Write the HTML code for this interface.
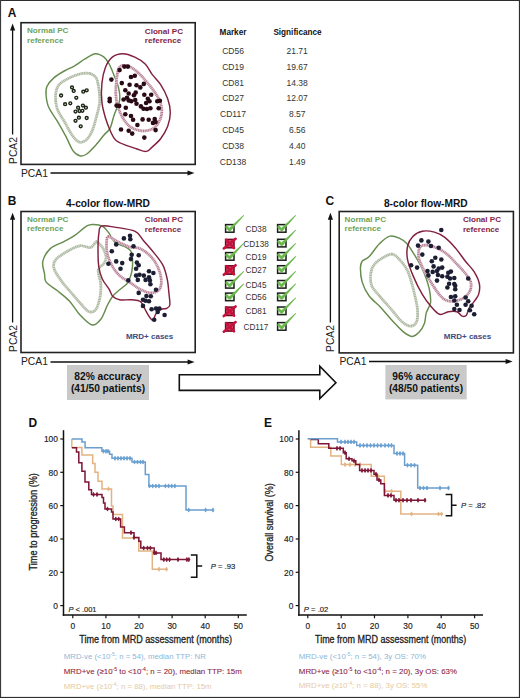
<!DOCTYPE html>
<html><head><meta charset="utf-8"><style>
html,body{margin:0;padding:0;background:#fff;}
svg{display:block;}
</style></head><body>
<svg width="520" height="698" viewBox="0 0 520 698">
<rect x="0" y="0" width="520" height="698" fill="#fff"/><rect x="0" y="0" width="520" height="1" fill="#2e2e2e"/><rect x="0" y="0" width="1.1" height="698" fill="#3a3a3a"/><rect x="518.9" y="0" width="1.1" height="698" fill="#2e2e2e"/><rect x="0" y="696.9" width="520" height="1.1" fill="#2e2e2e"/><text x="0" y="0" transform="translate(7.8,16.9) scale(0.92,1)" font-family="Liberation Sans, sans-serif" font-size="13" font-weight="bold" fill="#111">A</text><rect x="21.0" y="22.7" width="174.2" height="141.7" fill="none" stroke="#222" stroke-width="1.6"/><line x1="12.6" y1="28.5" x2="12.6" y2="134.5" stroke="#111" stroke-width="1.3"/><path d="M12.6,23.5 L10.0,30.5 L15.2,30.5 Z" fill="#111"/><text x="0" y="0" transform="translate(16.6,150.5) rotate(-90)" font-family="Liberation Sans, sans-serif" font-size="10.3" fill="#222" text-anchor="middle">PCA2</text><text x="21.0" y="176.6" font-family="Liberation Sans, sans-serif" font-size="10.3" fill="#222">PCA1</text><line x1="50.5" y1="173.0" x2="189.5" y2="173.0" stroke="#111" stroke-width="1.3"/><path d="M194.5,173.0 L187.5,170.4 L187.5,175.6 Z" fill="#111"/><text x="27" y="32.9" font-family="Liberation Sans, sans-serif" font-size="8.1" font-weight="bold" fill="#6fa258">Normal PC</text><text x="27" y="42.6" font-family="Liberation Sans, sans-serif" font-size="8.1" font-weight="bold" fill="#6fa258">reference</text><text x="144.8" y="34.2" font-family="Liberation Sans, sans-serif" font-size="8.1" font-weight="bold" fill="#842444">Clonal PC</text><text x="144.8" y="43.3" font-family="Liberation Sans, sans-serif" font-size="8.1" font-weight="bold" fill="#842444">reference</text><path d="M95.4,53.7 C98.6,53.4 101.7,55.4 104.0,57.1 C106.3,58.8 107.5,60.8 109.2,64.0 C110.9,67.2 112.8,72.2 114.4,76.2 C116.0,80.2 117.8,84.3 118.7,88.3 C119.6,92.3 120.3,96.1 119.6,100.4 C118.9,104.7 116.0,109.6 114.4,114.2 C112.8,118.8 111.8,124.6 110.1,128.1 C108.4,131.6 106.2,132.4 104.0,135.0 C101.8,137.6 100.0,140.4 97.1,143.6 C94.2,146.8 89.6,152.0 86.7,154.0 C83.8,156.0 82.1,156.4 79.8,155.8 C77.5,155.2 75.2,153.8 72.9,150.6 C70.6,147.4 68.6,141.6 66.0,136.7 C63.4,131.8 60.2,126.1 57.3,121.2 C54.4,116.3 50.6,111.6 48.7,107.3 C46.8,103.0 46.4,98.7 46.1,95.2 C45.8,91.7 45.6,89.4 46.9,86.5 C48.2,83.6 50.9,80.5 53.8,77.9 C56.7,75.3 60.7,73.0 64.2,71.0 C67.7,69.0 71.1,67.8 74.6,65.8 C78.1,63.8 81.5,60.8 85.0,58.8 C88.5,56.8 92.2,54.0 95.4,53.7Z" fill="none" stroke="#668c4e" stroke-width="1.45"/><path d="M90.2,73.6 C92.7,74.3 94.8,75.5 96.2,77.9 C97.6,80.4 98.2,84.3 98.8,88.3 C99.4,92.3 100.1,97.2 99.7,102.1 C99.3,107.0 97.5,112.8 96.2,117.7 C94.9,122.6 93.6,127.8 91.9,131.5 C90.2,135.2 88.1,138.5 85.9,140.2 C83.7,141.9 81.2,142.8 78.9,141.9 C76.6,141.0 74.5,138.4 72.0,135.0 C69.5,131.6 66.7,125.5 64.2,121.2 C61.8,116.9 58.7,113.3 57.3,109.0 C55.9,104.7 55.3,99.2 55.6,95.2 C55.9,91.2 56.7,87.7 59.0,84.8 C61.3,81.9 65.7,79.8 69.4,77.9 C73.2,76.0 78.0,74.3 81.5,73.6 C85.0,72.9 87.8,72.9 90.2,73.6Z" fill="none" stroke="#d8dfd0" stroke-width="2.7"/><path d="M90.2,73.6 C92.7,74.3 94.8,75.5 96.2,77.9 C97.6,80.4 98.2,84.3 98.8,88.3 C99.4,92.3 100.1,97.2 99.7,102.1 C99.3,107.0 97.5,112.8 96.2,117.7 C94.9,122.6 93.6,127.8 91.9,131.5 C90.2,135.2 88.1,138.5 85.9,140.2 C83.7,141.9 81.2,142.8 78.9,141.9 C76.6,141.0 74.5,138.4 72.0,135.0 C69.5,131.6 66.7,125.5 64.2,121.2 C61.8,116.9 58.7,113.3 57.3,109.0 C55.9,104.7 55.3,99.2 55.6,95.2 C55.9,91.2 56.7,87.7 59.0,84.8 C61.3,81.9 65.7,79.8 69.4,77.9 C73.2,76.0 78.0,74.3 81.5,73.6 C85.0,72.9 87.8,72.9 90.2,73.6Z" fill="none" stroke="#a2ae98" stroke-width="2.7" stroke-dasharray="0.8 0.9"/><path d="M122.7,53.7 C126.5,53.7 131.1,55.4 134.8,57.1 C138.6,58.8 142.3,61.1 145.2,64.0 C148.1,66.9 149.5,70.9 152.1,74.4 C154.7,77.9 158.2,80.8 160.8,84.8 C163.4,88.8 166.1,94.1 167.7,98.7 C169.3,103.3 170.3,107.9 170.3,112.5 C170.3,117.1 169.3,122.0 167.7,126.3 C166.1,130.6 163.4,135.0 160.8,138.5 C158.2,142.0 154.6,144.9 152.1,147.1 C149.6,149.2 148.7,151.1 146.1,151.4 C143.5,151.7 139.8,149.8 136.5,148.8 C133.2,147.8 129.7,146.8 126.2,145.4 C122.8,144.0 118.4,142.5 115.8,140.2 C113.2,137.9 112.3,135.2 110.6,131.5 C108.9,127.8 106.9,122.6 105.4,117.7 C104.0,112.8 102.5,107.9 101.9,102.1 C101.3,96.3 101.3,88.9 101.9,83.1 C102.5,77.3 103.7,71.8 105.4,67.5 C107.1,63.2 109.4,59.4 112.3,57.1 C115.2,54.8 119.0,53.7 122.7,53.7Z" fill="none" stroke="#82203e" stroke-width="1.45"/><path d="M122.7,65.4 C124.9,65.1 128.4,66.0 131.3,67.5 C134.2,69.0 137.4,72.0 140.0,74.4 C142.6,76.9 144.3,79.0 146.9,82.2 C149.5,85.4 153.3,89.9 155.6,93.5 C157.9,97.1 159.8,100.3 160.8,103.8 C161.8,107.2 162.2,110.7 161.6,114.2 C161.0,117.7 159.2,122.0 157.3,124.6 C155.4,127.2 153.3,128.8 150.4,129.8 C147.5,130.8 143.5,131.3 140.0,130.7 C136.5,130.1 132.5,128.5 129.6,126.3 C126.7,124.1 124.7,121.2 122.7,117.7 C120.7,114.2 118.7,109.6 117.5,105.6 C116.3,101.6 116.0,97.8 115.8,93.5 C115.6,89.2 116.2,83.6 116.6,79.6 C117.0,75.5 117.4,71.6 118.4,69.2 C119.4,66.8 120.5,65.7 122.7,65.4Z" fill="none" stroke="#e4cbd5" stroke-width="2.7"/><path d="M122.7,65.4 C124.9,65.1 128.4,66.0 131.3,67.5 C134.2,69.0 137.4,72.0 140.0,74.4 C142.6,76.9 144.3,79.0 146.9,82.2 C149.5,85.4 153.3,89.9 155.6,93.5 C157.9,97.1 159.8,100.3 160.8,103.8 C161.8,107.2 162.2,110.7 161.6,114.2 C161.0,117.7 159.2,122.0 157.3,124.6 C155.4,127.2 153.3,128.8 150.4,129.8 C147.5,130.8 143.5,131.3 140.0,130.7 C136.5,130.1 132.5,128.5 129.6,126.3 C126.7,124.1 124.7,121.2 122.7,117.7 C120.7,114.2 118.7,109.6 117.5,105.6 C116.3,101.6 116.0,97.8 115.8,93.5 C115.6,89.2 116.2,83.6 116.6,79.6 C117.0,75.5 117.4,71.6 118.4,69.2 C119.4,66.8 120.5,65.7 122.7,65.4Z" fill="none" stroke="#ad7189" stroke-width="2.7" stroke-dasharray="0.8 0.9"/><circle cx="72.0" cy="87.4" r="1.45" fill="#e8efe0" stroke="#1a2414" stroke-width="1.4"/><circle cx="73.7" cy="90.9" r="1.45" fill="#e8efe0" stroke="#1a2414" stroke-width="1.4"/><circle cx="83.3" cy="91.7" r="1.45" fill="#e8efe0" stroke="#1a2414" stroke-width="1.4"/><circle cx="86.7" cy="90.3" r="1.45" fill="#e8efe0" stroke="#1a2414" stroke-width="1.4"/><circle cx="61.1" cy="95.5" r="1.45" fill="#e8efe0" stroke="#1a2414" stroke-width="1.4"/><circle cx="76.3" cy="97.8" r="1.45" fill="#e8efe0" stroke="#1a2414" stroke-width="1.4"/><circle cx="65.1" cy="104.2" r="1.45" fill="#e8efe0" stroke="#1a2414" stroke-width="1.4"/><circle cx="70.3" cy="103.3" r="1.45" fill="#e8efe0" stroke="#1a2414" stroke-width="1.4"/><circle cx="78.1" cy="107.7" r="1.45" fill="#e8efe0" stroke="#1a2414" stroke-width="1.4"/><circle cx="82.9" cy="105.6" r="1.45" fill="#e8efe0" stroke="#1a2414" stroke-width="1.4"/><circle cx="85.9" cy="107.7" r="1.45" fill="#e8efe0" stroke="#1a2414" stroke-width="1.4"/><circle cx="75.5" cy="111.6" r="1.45" fill="#e8efe0" stroke="#1a2414" stroke-width="1.4"/><circle cx="79.5" cy="111.1" r="1.45" fill="#e8efe0" stroke="#1a2414" stroke-width="1.4"/><circle cx="82.4" cy="110.8" r="1.45" fill="#e8efe0" stroke="#1a2414" stroke-width="1.4"/><circle cx="78.9" cy="117.7" r="1.45" fill="#e8efe0" stroke="#1a2414" stroke-width="1.4"/><circle cx="86.7" cy="118.0" r="1.45" fill="#e8efe0" stroke="#1a2414" stroke-width="1.4"/><circle cx="75.5" cy="120.8" r="1.45" fill="#e8efe0" stroke="#1a2414" stroke-width="1.4"/><circle cx="80.7" cy="126.3" r="1.45" fill="#e8efe0" stroke="#1a2414" stroke-width="1.4"/><circle cx="111.4" cy="79.6" r="2.30" fill="#2a0a14"/><circle cx="119.6" cy="70.1" r="2.30" fill="#2a0a14"/><circle cx="124.4" cy="66.6" r="2.30" fill="#2a0a14"/><circle cx="127.9" cy="66.6" r="2.30" fill="#2a0a14"/><circle cx="131.0" cy="77.0" r="2.30" fill="#2a0a14"/><circle cx="134.8" cy="75.8" r="2.30" fill="#2a0a14"/><circle cx="121.8" cy="83.1" r="2.30" fill="#2a0a14"/><circle cx="129.6" cy="84.8" r="2.30" fill="#2a0a14"/><circle cx="136.5" cy="85.2" r="2.30" fill="#2a0a14"/><circle cx="140.3" cy="87.4" r="2.30" fill="#2a0a14"/><circle cx="143.8" cy="83.9" r="2.30" fill="#2a0a14"/><circle cx="125.3" cy="90.3" r="2.30" fill="#2a0a14"/><circle cx="128.7" cy="93.5" r="2.30" fill="#2a0a14"/><circle cx="133.9" cy="95.2" r="2.30" fill="#2a0a14"/><circle cx="135.7" cy="92.6" r="2.30" fill="#2a0a14"/><circle cx="144.3" cy="94.8" r="2.30" fill="#2a0a14"/><circle cx="151.2" cy="94.8" r="2.30" fill="#2a0a14"/><circle cx="109.7" cy="98.7" r="2.30" fill="#2a0a14"/><circle cx="109.7" cy="101.2" r="2.30" fill="#2a0a14"/><circle cx="123.6" cy="99.5" r="2.30" fill="#2a0a14"/><circle cx="127.0" cy="97.8" r="2.30" fill="#2a0a14"/><circle cx="128.7" cy="100.4" r="2.30" fill="#2a0a14"/><circle cx="131.3" cy="101.2" r="2.30" fill="#2a0a14"/><circle cx="135.2" cy="100.0" r="2.30" fill="#2a0a14"/><circle cx="147.8" cy="98.7" r="2.30" fill="#2a0a14"/><circle cx="149.5" cy="101.2" r="2.30" fill="#2a0a14"/><circle cx="146.1" cy="103.0" r="2.30" fill="#2a0a14"/><circle cx="157.3" cy="101.2" r="2.30" fill="#2a0a14"/><circle cx="159.9" cy="100.7" r="2.30" fill="#2a0a14"/><circle cx="116.6" cy="105.6" r="2.30" fill="#2a0a14"/><circle cx="119.2" cy="105.9" r="2.30" fill="#2a0a14"/><circle cx="125.8" cy="107.7" r="2.30" fill="#2a0a14"/><circle cx="136.5" cy="103.8" r="2.30" fill="#2a0a14"/><circle cx="140.9" cy="106.4" r="2.30" fill="#2a0a14"/><circle cx="143.5" cy="108.7" r="2.30" fill="#2a0a14"/><circle cx="146.9" cy="109.0" r="2.30" fill="#2a0a14"/><circle cx="150.4" cy="108.2" r="2.30" fill="#2a0a14"/><circle cx="158.7" cy="108.2" r="2.30" fill="#2a0a14"/><circle cx="125.3" cy="114.2" r="2.30" fill="#2a0a14"/><circle cx="131.0" cy="116.0" r="2.30" fill="#2a0a14"/><circle cx="133.1" cy="119.8" r="2.30" fill="#2a0a14"/><circle cx="142.6" cy="119.4" r="2.30" fill="#2a0a14"/><circle cx="148.7" cy="119.8" r="2.30" fill="#2a0a14"/><circle cx="154.7" cy="119.1" r="2.30" fill="#2a0a14"/><circle cx="153.0" cy="122.9" r="2.30" fill="#2a0a14"/><circle cx="155.6" cy="122.0" r="2.30" fill="#2a0a14"/><circle cx="137.4" cy="125.0" r="2.30" fill="#2a0a14"/><circle cx="121.0" cy="129.5" r="2.30" fill="#2a0a14"/><circle cx="128.7" cy="130.7" r="2.30" fill="#2a0a14"/><circle cx="132.2" cy="133.6" r="2.30" fill="#2a0a14"/><circle cx="155.6" cy="130.1" r="2.30" fill="#2a0a14"/><circle cx="144.3" cy="137.6" r="2.30" fill="#2a0a14"/><text x="233" y="35" font-family="Liberation Sans, sans-serif" font-size="8.2" font-weight="bold" fill="#111" text-anchor="middle">Marker</text><text x="297.5" y="35" font-family="Liberation Sans, sans-serif" font-size="8.2" font-weight="bold" fill="#111" text-anchor="middle">Significance</text><text x="233" y="54.0" font-family="Liberation Sans, sans-serif" font-size="8.5" fill="#333" text-anchor="middle">CD56</text><text x="297.2" y="54.0" font-family="Liberation Sans, sans-serif" font-size="8.5" fill="#333" text-anchor="middle">21.71</text><text x="233" y="69.8" font-family="Liberation Sans, sans-serif" font-size="8.5" fill="#333" text-anchor="middle">CD19</text><text x="297.2" y="69.8" font-family="Liberation Sans, sans-serif" font-size="8.5" fill="#333" text-anchor="middle">19.67</text><text x="233" y="85.6" font-family="Liberation Sans, sans-serif" font-size="8.5" fill="#333" text-anchor="middle">CD81</text><text x="297.2" y="85.6" font-family="Liberation Sans, sans-serif" font-size="8.5" fill="#333" text-anchor="middle">14.38</text><text x="233" y="101.4" font-family="Liberation Sans, sans-serif" font-size="8.5" fill="#333" text-anchor="middle">CD27</text><text x="297.2" y="101.4" font-family="Liberation Sans, sans-serif" font-size="8.5" fill="#333" text-anchor="middle">12.07</text><text x="233" y="117.2" font-family="Liberation Sans, sans-serif" font-size="8.5" fill="#333" text-anchor="middle">CD117</text><text x="297.2" y="117.2" font-family="Liberation Sans, sans-serif" font-size="8.5" fill="#333" text-anchor="middle">8.57</text><text x="233" y="133.0" font-family="Liberation Sans, sans-serif" font-size="8.5" fill="#333" text-anchor="middle">CD45</text><text x="297.2" y="133.0" font-family="Liberation Sans, sans-serif" font-size="8.5" fill="#333" text-anchor="middle">6.56</text><text x="233" y="148.8" font-family="Liberation Sans, sans-serif" font-size="8.5" fill="#333" text-anchor="middle">CD38</text><text x="297.2" y="148.8" font-family="Liberation Sans, sans-serif" font-size="8.5" fill="#333" text-anchor="middle">4.40</text><text x="233" y="164.6" font-family="Liberation Sans, sans-serif" font-size="8.5" fill="#333" text-anchor="middle">CD138</text><text x="297.2" y="164.6" font-family="Liberation Sans, sans-serif" font-size="8.5" fill="#333" text-anchor="middle">1.49</text><text x="0" y="0" transform="translate(7.8,204.8) scale(0.92,1)" font-family="Liberation Sans, sans-serif" font-size="13" font-weight="bold" fill="#111">B</text><text x="108" y="206.5" font-family="Liberation Sans, sans-serif" font-size="10.2" font-weight="bold" fill="#111" text-anchor="middle">4-color flow-MRD</text><rect x="21.0" y="211.5" width="174.2" height="141.0" fill="none" stroke="#222" stroke-width="1.6"/><line x1="12.6" y1="217.7" x2="12.6" y2="322.5" stroke="#111" stroke-width="1.3"/><path d="M12.6,212.7 L10.0,219.7 L15.2,219.7 Z" fill="#111"/><text x="0" y="0" transform="translate(16.6,338.5) rotate(-90)" font-family="Liberation Sans, sans-serif" font-size="10.3" fill="#222" text-anchor="middle">PCA2</text><text x="21.0" y="365.0" font-family="Liberation Sans, sans-serif" font-size="10.3" fill="#222">PCA1</text><line x1="50.5" y1="362.0" x2="189.6" y2="362.0" stroke="#111" stroke-width="1.3"/><path d="M194.6,362.0 L187.6,359.4 L187.6,364.6 Z" fill="#111"/><text x="27" y="221.9" font-family="Liberation Sans, sans-serif" font-size="8.1" font-weight="bold" fill="#6fa258">Normal PC</text><text x="27" y="231.2" font-family="Liberation Sans, sans-serif" font-size="8.1" font-weight="bold" fill="#6fa258">reference</text><text x="144.8" y="222.4" font-family="Liberation Sans, sans-serif" font-size="8.1" font-weight="bold" fill="#842444">Clonal PC</text><text x="144.8" y="231.6" font-family="Liberation Sans, sans-serif" font-size="8.1" font-weight="bold" fill="#842444">reference</text><path d="M93.7,224.5 C96.3,224.6 99.8,224.9 102.3,226.2 C104.8,227.5 106.2,229.6 108.4,232.3 C110.6,235.1 112.4,240.2 115.3,242.7 C118.2,245.1 123.1,245.6 125.7,247.0 C128.3,248.4 129.8,248.9 130.9,251.3 C132.1,253.8 132.5,258.2 132.6,261.7 C132.7,265.2 132.3,269.1 131.7,272.1 C131.1,275.1 130.0,277.9 129.1,279.9 C128.2,281.9 128.4,282.3 126.5,284.2 C124.6,286.1 120.2,289.2 117.9,291.2 C115.6,293.2 114.4,294.0 112.7,296.3 C111.0,298.6 109.5,301.2 107.5,305.0 C105.5,308.8 103.4,316.0 100.8,319.3 C98.2,322.6 95.6,325.7 92.1,325.0 C88.6,324.3 83.8,319.0 80.0,315.0 C76.2,311.0 73.3,305.2 69.6,301.2 C65.8,297.2 61.4,294.0 57.5,290.8 C53.6,287.6 48.4,285.0 46.2,282.1 C44.0,279.2 45.1,277.0 44.5,273.5 C43.9,270.0 41.8,265.5 42.8,261.3 C43.8,257.1 47.0,251.7 50.6,248.4 C54.2,245.1 60.4,243.6 64.4,241.4 C68.4,239.2 71.0,238.0 74.8,235.4 C78.5,232.8 83.8,227.7 86.9,225.9 C90.1,224.1 91.1,224.4 93.7,224.5Z" fill="none" stroke="#668c4e" stroke-width="1.45"/><path d="M95.6,242.3 C94.4,243.2 93.0,246.9 90.4,247.5 C87.8,248.1 83.8,245.2 80.0,245.8 C76.2,246.4 71.9,248.7 67.9,251.0 C63.9,253.3 58.1,256.7 55.8,259.6 C53.5,262.5 53.1,264.8 54.0,268.3 C54.9,271.8 58.4,276.6 61.0,280.4 C63.6,284.1 66.4,287.1 69.6,290.8 C72.8,294.6 76.8,299.4 80.0,302.9 C83.2,306.3 86.1,310.4 88.7,311.5 C91.3,312.6 93.7,312.1 95.6,309.8 C97.5,307.5 99.0,302.0 99.9,297.7 C100.8,293.4 101.1,288.4 100.8,283.8 C100.5,279.2 97.6,273.4 98.2,270.0 C98.8,266.6 102.9,265.4 104.2,263.1 C105.5,260.8 106.3,258.8 106.0,256.2 C105.7,253.6 104.0,249.8 102.5,247.5 C101.0,245.2 98.5,243.2 97.3,242.3 C96.1,241.4 96.8,241.4 95.6,242.3Z" fill="none" stroke="#d8dfd0" stroke-width="2.7"/><path d="M95.6,242.3 C94.4,243.2 93.0,246.9 90.4,247.5 C87.8,248.1 83.8,245.2 80.0,245.8 C76.2,246.4 71.9,248.7 67.9,251.0 C63.9,253.3 58.1,256.7 55.8,259.6 C53.5,262.5 53.1,264.8 54.0,268.3 C54.9,271.8 58.4,276.6 61.0,280.4 C63.6,284.1 66.4,287.1 69.6,290.8 C72.8,294.6 76.8,299.4 80.0,302.9 C83.2,306.3 86.1,310.4 88.7,311.5 C91.3,312.6 93.7,312.1 95.6,309.8 C97.5,307.5 99.0,302.0 99.9,297.7 C100.8,293.4 101.1,288.4 100.8,283.8 C100.5,279.2 97.6,273.4 98.2,270.0 C98.8,266.6 102.9,265.4 104.2,263.1 C105.5,260.8 106.3,258.8 106.0,256.2 C105.7,253.6 104.0,249.8 102.5,247.5 C101.0,245.2 98.5,243.2 97.3,242.3 C96.1,241.4 96.8,241.4 95.6,242.3Z" fill="none" stroke="#a2ae98" stroke-width="2.7" stroke-dasharray="0.8 0.9"/><path d="M101.4,226.2 C104.0,225.0 108.8,226.2 114.4,227.1 C120.0,228.0 130.3,229.1 135.2,231.4 C140.1,233.7 140.6,237.4 143.8,241.0 C147.0,244.6 151.0,249.1 154.2,253.1 C157.4,257.1 160.7,260.9 162.9,265.2 C165.1,269.5 166.2,274.4 167.2,279.0 C168.2,283.6 168.5,288.6 168.9,292.9 C169.3,297.2 170.2,302.4 169.8,305.0 C169.4,307.6 167.7,307.8 166.3,308.5 C164.9,309.2 162.9,308.4 161.2,309.3 C159.5,310.2 157.3,311.9 156.0,313.6 C154.7,315.3 154.3,318.8 153.4,319.7 C152.5,320.6 152.0,320.1 150.8,318.8 C149.6,317.5 148.1,314.8 146.4,311.9 C144.7,309.0 142.9,303.5 140.4,301.5 C137.9,299.5 135.2,300.1 131.7,299.8 C128.2,299.5 122.8,300.4 119.6,299.8 C116.4,299.2 114.4,298.0 112.7,296.3 C111.0,294.6 110.9,292.3 109.2,289.4 C107.5,286.5 104.0,282.8 102.3,279.0 C100.6,275.2 99.5,271.8 98.8,266.9 C98.1,262.0 98.0,255.1 98.0,249.6 C98.0,244.1 98.2,237.9 98.8,234.0 C99.4,230.1 98.8,227.3 101.4,226.2Z" fill="none" stroke="#82203e" stroke-width="1.45"/><path d="M108.4,236.6 C110.3,236.4 114.3,240.1 117.9,241.8 C121.5,243.5 126.2,245.8 130.0,247.0 C133.8,248.2 136.9,247.1 140.4,248.7 C143.9,250.3 147.9,253.5 150.8,256.5 C153.7,259.5 156.0,263.1 157.7,266.9 C159.4,270.6 160.9,275.2 161.2,279.0 C161.5,282.8 161.1,287.1 159.4,289.4 C157.7,291.7 154.0,292.9 150.8,292.9 C147.6,292.9 143.9,291.1 140.4,289.4 C136.9,287.7 133.5,284.8 130.0,282.5 C126.5,280.2 122.5,278.2 119.6,275.6 C116.7,273.0 114.7,270.4 112.7,266.9 C110.7,263.4 108.5,258.8 107.5,254.8 C106.5,250.8 106.4,245.7 106.6,242.7 C106.8,239.7 106.5,236.8 108.4,236.6Z" fill="none" stroke="#e4cbd5" stroke-width="2.7"/><path d="M108.4,236.6 C110.3,236.4 114.3,240.1 117.9,241.8 C121.5,243.5 126.2,245.8 130.0,247.0 C133.8,248.2 136.9,247.1 140.4,248.7 C143.9,250.3 147.9,253.5 150.8,256.5 C153.7,259.5 156.0,263.1 157.7,266.9 C159.4,270.6 160.9,275.2 161.2,279.0 C161.5,282.8 161.1,287.1 159.4,289.4 C157.7,291.7 154.0,292.9 150.8,292.9 C147.6,292.9 143.9,291.1 140.4,289.4 C136.9,287.7 133.5,284.8 130.0,282.5 C126.5,280.2 122.5,278.2 119.6,275.6 C116.7,273.0 114.7,270.4 112.7,266.9 C110.7,263.4 108.5,258.8 107.5,254.8 C106.5,250.8 106.4,245.7 106.6,242.7 C106.8,239.7 106.5,236.8 108.4,236.6Z" fill="none" stroke="#ad7189" stroke-width="2.7" stroke-dasharray="0.8 0.9"/><circle cx="130.0" cy="235.8" r="2.30" fill="#1c1e33"/><circle cx="130.3" cy="239.2" r="2.30" fill="#1c1e33"/><circle cx="123.9" cy="238.4" r="2.30" fill="#1c1e33"/><circle cx="116.2" cy="244.4" r="2.30" fill="#1c1e33"/><circle cx="133.5" cy="246.2" r="2.30" fill="#1c1e33"/><circle cx="111.8" cy="251.3" r="2.30" fill="#1c1e33"/><circle cx="131.7" cy="254.8" r="2.30" fill="#1c1e33"/><circle cx="138.7" cy="255.2" r="2.30" fill="#1c1e33"/><circle cx="130.9" cy="259.1" r="2.30" fill="#1c1e33"/><circle cx="116.2" cy="261.4" r="2.30" fill="#1c1e33"/><circle cx="122.2" cy="263.1" r="2.30" fill="#1c1e33"/><circle cx="108.4" cy="263.8" r="2.30" fill="#1c1e33"/><circle cx="136.9" cy="262.6" r="2.30" fill="#1c1e33"/><circle cx="138.7" cy="265.2" r="2.30" fill="#1c1e33"/><circle cx="136.1" cy="268.7" r="2.30" fill="#1c1e33"/><circle cx="120.5" cy="268.7" r="2.30" fill="#1c1e33"/><circle cx="149.0" cy="271.2" r="2.30" fill="#1c1e33"/><circle cx="153.4" cy="273.0" r="2.30" fill="#1c1e33"/><circle cx="136.1" cy="275.6" r="2.30" fill="#1c1e33"/><circle cx="139.5" cy="274.7" r="2.30" fill="#1c1e33"/><circle cx="143.8" cy="275.6" r="2.30" fill="#1c1e33"/><circle cx="137.8" cy="279.9" r="2.30" fill="#1c1e33"/><circle cx="145.6" cy="279.9" r="2.30" fill="#1c1e33"/><circle cx="149.0" cy="277.3" r="2.30" fill="#1c1e33"/><circle cx="149.9" cy="280.4" r="2.30" fill="#1c1e33"/><circle cx="150.4" cy="284.2" r="2.30" fill="#1c1e33"/><circle cx="128.3" cy="280.4" r="2.30" fill="#1c1e33"/><circle cx="156.0" cy="289.8" r="2.30" fill="#1c1e33"/><circle cx="138.7" cy="292.9" r="2.30" fill="#1c1e33"/><circle cx="146.4" cy="296.0" r="2.30" fill="#1c1e33"/><circle cx="150.8" cy="296.3" r="2.30" fill="#1c1e33"/><circle cx="143.0" cy="299.8" r="2.30" fill="#1c1e33"/><circle cx="145.6" cy="300.7" r="2.30" fill="#1c1e33"/><circle cx="149.0" cy="301.2" r="2.30" fill="#1c1e33"/><circle cx="143.0" cy="305.9" r="2.30" fill="#1c1e33"/><circle cx="151.6" cy="309.3" r="2.30" fill="#1c1e33"/><circle cx="156.0" cy="308.5" r="2.30" fill="#1c1e33"/><circle cx="159.4" cy="308.5" r="2.30" fill="#1c1e33"/><circle cx="157.7" cy="311.9" r="2.30" fill="#1c1e33"/><circle cx="164.6" cy="315.0" r="2.30" fill="#1c1e33"/><circle cx="154.2" cy="319.7" r="2.30" fill="#1c1e33"/><text x="125.9" y="339.1" font-family="Liberation Sans, sans-serif" font-size="8.0" font-weight="bold" fill="#404a80">MRD+ cases</text><rect x="67" y="365" width="82" height="35" fill="#c9c9c9"/><text x="108" y="379.6" font-family="Liberation Sans, sans-serif" font-size="10.2" font-weight="bold" fill="#111" text-anchor="middle">82% accuracy</text><text x="108" y="391.7" font-family="Liberation Sans, sans-serif" font-size="10.2" font-weight="bold" fill="#111" text-anchor="middle">(41/50 patients)</text><path d="M179.3,374.8 L319.8,374.8 L319.8,366.2 L335.9,382.7 L319.8,398.5 L319.8,390.4 L179.3,390.4 Z" fill="#fff" stroke="#111" stroke-width="1.6" stroke-linejoin="miter"/><rect x="225.6" y="224.6" width="8.4" height="7.6" fill="#eef7e8" stroke="#1a1f1a" stroke-width="1.5"/><path d="M226.6,227.0 L229.5,229.9" fill="none" stroke="#6ab84c" stroke-width="2.6" stroke-linecap="round"/><path d="M230.57,230.95 L244.12,215.61 L243.48,214.99 L228.43,228.85 Z" fill="#6ab84c"/><rect x="277.6" y="224.6" width="8.4" height="7.6" fill="#eef7e8" stroke="#1a1f1a" stroke-width="1.5"/><path d="M278.6,227.0 L281.5,229.9" fill="none" stroke="#6ab84c" stroke-width="2.6" stroke-linecap="round"/><path d="M282.57,230.95 L296.12,215.61 L295.48,214.99 L280.43,228.85 Z" fill="#6ab84c"/><text x="256" y="231.9" font-family="Liberation Sans, sans-serif" font-size="8.2" fill="#333" text-anchor="middle">CD38</text><rect x="225.6" y="239.4" width="8.4" height="8.4" fill="#d44a6a" stroke="#6a0a26" stroke-width="1.5"/><path d="M223.8,248.4 L235.6,238.8 M226.2,239.8 L234.0,248.0" stroke="#c8103a" stroke-width="2.6" stroke-linecap="round"/><rect x="277.6" y="239.3" width="8.4" height="7.6" fill="#eef7e8" stroke="#1a1f1a" stroke-width="1.5"/><path d="M278.6,241.7 L281.5,244.6" fill="none" stroke="#6ab84c" stroke-width="2.6" stroke-linecap="round"/><path d="M282.57,245.65 L296.12,230.31 L295.48,229.69 L280.43,243.55 Z" fill="#6ab84c"/><text x="256" y="246.6" font-family="Liberation Sans, sans-serif" font-size="8.2" fill="#333" text-anchor="middle">CD138</text><rect x="225.6" y="252.6" width="8.4" height="7.6" fill="#eef7e8" stroke="#1a1f1a" stroke-width="1.5"/><path d="M226.6,255.0 L229.5,257.9" fill="none" stroke="#6ab84c" stroke-width="2.6" stroke-linecap="round"/><path d="M230.57,258.95 L244.12,243.61 L243.48,242.99 L228.43,256.85 Z" fill="#6ab84c"/><rect x="277.6" y="252.6" width="8.4" height="7.6" fill="#eef7e8" stroke="#1a1f1a" stroke-width="1.5"/><path d="M278.6,255.0 L281.5,257.9" fill="none" stroke="#6ab84c" stroke-width="2.6" stroke-linecap="round"/><path d="M282.57,258.95 L296.12,243.61 L295.48,242.99 L280.43,256.85 Z" fill="#6ab84c"/><text x="256" y="259.9" font-family="Liberation Sans, sans-serif" font-size="8.2" fill="#333" text-anchor="middle">CD19</text><rect x="225.6" y="265.8" width="8.4" height="8.4" fill="#d44a6a" stroke="#6a0a26" stroke-width="1.5"/><path d="M223.8,274.8 L235.6,265.2 M226.2,266.2 L234.0,274.4" stroke="#c8103a" stroke-width="2.6" stroke-linecap="round"/><rect x="277.6" y="265.7" width="8.4" height="7.6" fill="#eef7e8" stroke="#1a1f1a" stroke-width="1.5"/><path d="M278.6,268.1 L281.5,271.0" fill="none" stroke="#6ab84c" stroke-width="2.6" stroke-linecap="round"/><path d="M282.57,272.05 L296.12,256.71 L295.48,256.09 L280.43,269.95 Z" fill="#6ab84c"/><text x="256" y="273.0" font-family="Liberation Sans, sans-serif" font-size="8.2" fill="#333" text-anchor="middle">CD27</text><rect x="225.6" y="280.5" width="8.4" height="7.6" fill="#eef7e8" stroke="#1a1f1a" stroke-width="1.5"/><path d="M226.6,282.9 L229.5,285.8" fill="none" stroke="#6ab84c" stroke-width="2.6" stroke-linecap="round"/><path d="M230.57,286.85 L244.12,271.51 L243.48,270.89 L228.43,284.75 Z" fill="#6ab84c"/><rect x="277.6" y="280.5" width="8.4" height="7.6" fill="#eef7e8" stroke="#1a1f1a" stroke-width="1.5"/><path d="M278.6,282.9 L281.5,285.8" fill="none" stroke="#6ab84c" stroke-width="2.6" stroke-linecap="round"/><path d="M282.57,286.85 L296.12,271.51 L295.48,270.89 L280.43,284.75 Z" fill="#6ab84c"/><text x="256" y="287.8" font-family="Liberation Sans, sans-serif" font-size="8.2" fill="#333" text-anchor="middle">CD45</text><rect x="225.6" y="293.1" width="8.4" height="7.6" fill="#eef7e8" stroke="#1a1f1a" stroke-width="1.5"/><path d="M226.6,295.5 L229.5,298.4" fill="none" stroke="#6ab84c" stroke-width="2.6" stroke-linecap="round"/><path d="M230.57,299.45 L244.12,284.11 L243.48,283.49 L228.43,297.35 Z" fill="#6ab84c"/><rect x="277.6" y="293.1" width="8.4" height="7.6" fill="#eef7e8" stroke="#1a1f1a" stroke-width="1.5"/><path d="M278.6,295.5 L281.5,298.4" fill="none" stroke="#6ab84c" stroke-width="2.6" stroke-linecap="round"/><path d="M282.57,299.45 L296.12,284.11 L295.48,283.49 L280.43,297.35 Z" fill="#6ab84c"/><text x="256" y="300.4" font-family="Liberation Sans, sans-serif" font-size="8.2" fill="#333" text-anchor="middle">CD56</text><rect x="225.6" y="307.1" width="8.4" height="8.4" fill="#d44a6a" stroke="#6a0a26" stroke-width="1.5"/><path d="M223.8,316.1 L235.6,306.5 M226.2,307.5 L234.0,315.7" stroke="#c8103a" stroke-width="2.6" stroke-linecap="round"/><rect x="277.6" y="307.0" width="8.4" height="7.6" fill="#eef7e8" stroke="#1a1f1a" stroke-width="1.5"/><path d="M278.6,309.4 L281.5,312.3" fill="none" stroke="#6ab84c" stroke-width="2.6" stroke-linecap="round"/><path d="M282.57,313.35 L296.12,298.01 L295.48,297.39 L280.43,311.25 Z" fill="#6ab84c"/><text x="256" y="314.3" font-family="Liberation Sans, sans-serif" font-size="8.2" fill="#333" text-anchor="middle">CD81</text><rect x="225.6" y="322.7" width="8.4" height="8.4" fill="#d44a6a" stroke="#6a0a26" stroke-width="1.5"/><path d="M223.8,331.7 L235.6,322.1 M226.2,323.1 L234.0,331.3" stroke="#c8103a" stroke-width="2.6" stroke-linecap="round"/><rect x="277.6" y="322.6" width="8.4" height="7.6" fill="#eef7e8" stroke="#1a1f1a" stroke-width="1.5"/><path d="M278.6,325.0 L281.5,327.9" fill="none" stroke="#6ab84c" stroke-width="2.6" stroke-linecap="round"/><path d="M282.57,328.95 L296.12,313.61 L295.48,312.99 L280.43,326.85 Z" fill="#6ab84c"/><text x="256" y="329.9" font-family="Liberation Sans, sans-serif" font-size="8.2" fill="#333" text-anchor="middle">CD117</text><text x="0" y="0" transform="translate(325.6,204.9) scale(0.92,1)" font-family="Liberation Sans, sans-serif" font-size="13" font-weight="bold" fill="#111">C</text><text x="425.8" y="206.5" font-family="Liberation Sans, sans-serif" font-size="10.2" font-weight="bold" fill="#111" text-anchor="middle">8-color flow-MRD</text><rect x="339.2" y="211.5" width="174.2" height="141.4" fill="none" stroke="#222" stroke-width="1.6"/><line x1="330.4" y1="217.7" x2="330.4" y2="322.5" stroke="#111" stroke-width="1.3"/><path d="M330.4,212.7 L327.8,219.7 L333.0,219.7 Z" fill="#111"/><text x="0" y="0" transform="translate(334.4,338.5) rotate(-90)" font-family="Liberation Sans, sans-serif" font-size="10.3" fill="#222" text-anchor="middle">PCA2</text><text x="339.5" y="365.0" font-family="Liberation Sans, sans-serif" font-size="10.3" fill="#222">PCA1</text><line x1="369.0" y1="361.5" x2="507.6" y2="361.5" stroke="#111" stroke-width="1.3"/><path d="M512.6,361.5 L505.6,358.9 L505.6,364.1 Z" fill="#111"/><text x="344.6" y="221.9" font-family="Liberation Sans, sans-serif" font-size="8.1" font-weight="bold" fill="#6fa258">Normal PC</text><text x="344.6" y="231.2" font-family="Liberation Sans, sans-serif" font-size="8.1" font-weight="bold" fill="#6fa258">reference</text><text x="462.9" y="222.4" font-family="Liberation Sans, sans-serif" font-size="8.1" font-weight="bold" fill="#842444">Clonal PC</text><text x="462.9" y="231.6" font-family="Liberation Sans, sans-serif" font-size="8.1" font-weight="bold" fill="#842444">reference</text><path d="M389.8,236.1 C393.3,235.2 397.3,237.4 400.2,238.7 C403.1,240.0 404.8,241.2 407.1,243.8 C409.4,246.4 411.7,250.4 414.0,254.2 C416.3,257.9 419.0,262.2 421.0,266.3 C423.0,270.4 424.8,274.4 426.2,278.5 C427.6,282.6 428.9,286.6 429.6,290.6 C430.3,294.6 431.1,298.9 430.5,302.7 C429.9,306.4 427.2,309.6 426.2,313.1 C425.2,316.6 425.6,320.3 424.4,323.5 C423.2,326.7 421.2,330.0 419.2,332.1 C417.2,334.2 414.9,336.4 412.3,336.4 C409.7,336.4 406.9,334.6 403.7,332.1 C400.5,329.7 397.1,325.7 393.3,321.7 C389.6,317.7 385.2,312.2 381.2,307.9 C377.1,303.6 372.2,300.1 369.0,295.8 C365.8,291.5 363.5,286.5 362.1,281.9 C360.7,277.3 360.4,271.6 360.4,268.1 C360.4,264.7 360.7,263.1 362.1,261.2 C363.5,259.3 366.1,259.7 369.0,256.8 C371.9,253.9 375.9,247.2 379.4,243.8 C382.9,240.4 386.3,236.9 389.8,236.1Z" fill="none" stroke="#668c4e" stroke-width="1.45"/><path d="M392.4,254.2 C395.3,254.6 397.8,257.7 400.2,260.3 C402.6,262.9 405.2,266.2 407.1,269.8 C409.0,273.4 410.1,277.6 411.4,281.9 C412.7,286.2 413.9,291.2 414.9,295.8 C415.9,300.4 417.2,305.3 417.5,309.6 C417.8,313.9 417.8,318.9 416.6,321.7 C415.5,324.4 413.1,326.1 410.6,326.1 C408.2,326.1 405.1,324.4 401.9,321.7 C398.7,318.9 395.2,313.9 391.5,309.6 C387.8,305.3 382.7,299.8 379.4,295.8 C376.1,291.8 373.0,289.1 371.6,285.4 C370.2,281.6 370.4,276.8 370.8,273.3 C371.2,269.8 372.2,267.2 374.2,264.6 C376.2,262.0 379.9,259.4 382.9,257.7 C385.9,256.0 389.5,253.8 392.4,254.2Z" fill="none" stroke="#d8dfd0" stroke-width="2.7"/><path d="M392.4,254.2 C395.3,254.6 397.8,257.7 400.2,260.3 C402.6,262.9 405.2,266.2 407.1,269.8 C409.0,273.4 410.1,277.6 411.4,281.9 C412.7,286.2 413.9,291.2 414.9,295.8 C415.9,300.4 417.2,305.3 417.5,309.6 C417.8,313.9 417.8,318.9 416.6,321.7 C415.5,324.4 413.1,326.1 410.6,326.1 C408.2,326.1 405.1,324.4 401.9,321.7 C398.7,318.9 395.2,313.9 391.5,309.6 C387.8,305.3 382.7,299.8 379.4,295.8 C376.1,291.8 373.0,289.1 371.6,285.4 C370.2,281.6 370.4,276.8 370.8,273.3 C371.2,269.8 372.2,267.2 374.2,264.6 C376.2,262.0 379.9,259.4 382.9,257.7 C385.9,256.0 389.5,253.8 392.4,254.2Z" fill="none" stroke="#a2ae98" stroke-width="2.7" stroke-dasharray="0.8 0.9"/><path d="M422.3,231.2 C425.9,230.5 430.6,231.1 434.4,232.1 C438.1,233.1 441.3,234.7 444.8,237.3 C448.3,239.9 451.7,243.7 455.2,247.7 C458.7,251.7 462.4,257.5 465.6,261.5 C468.8,265.5 471.9,268.1 474.2,271.9 C476.5,275.6 478.7,280.2 479.4,284.0 C480.1,287.8 479.5,291.5 478.6,294.4 C477.7,297.3 475.8,299.0 474.2,301.3 C472.6,303.6 470.3,306.0 469.0,308.3 C467.7,310.6 467.5,313.9 466.4,315.2 C465.2,316.5 463.7,316.7 462.1,316.1 C460.5,315.5 459.2,312.4 456.9,311.7 C454.6,311.0 451.2,311.3 448.3,311.7 C445.4,312.1 442.5,315.2 439.6,314.3 C436.7,313.4 433.9,309.8 431.0,306.5 C428.1,303.2 425.2,299.3 422.3,294.4 C419.4,289.5 416.1,282.9 413.7,277.1 C411.2,271.3 408.6,265.0 407.6,259.8 C406.6,254.6 406.7,249.9 407.6,246.0 C408.5,242.1 410.4,238.9 412.8,236.4 C415.2,233.9 418.7,231.9 422.3,231.2Z" fill="none" stroke="#82203e" stroke-width="1.45"/><path d="M419.7,247.7 C420.9,245.5 423.1,245.1 425.8,245.1 C428.6,245.1 432.8,246.3 436.2,247.7 C439.6,249.1 443.1,251.0 446.5,253.7 C449.9,256.4 453.7,260.8 456.9,264.1 C460.1,267.4 463.3,270.7 465.6,273.7 C467.9,276.7 470.1,279.4 470.8,282.3 C471.5,285.2 471.1,288.4 469.9,291.0 C468.7,293.6 466.5,296.2 463.8,297.9 C461.1,299.6 456.7,301.0 453.5,301.3 C450.3,301.6 447.4,301.0 444.8,299.6 C442.2,298.2 440.2,295.6 437.9,292.7 C435.6,289.8 433.3,286.1 431.0,282.3 C428.7,278.6 426.0,274.2 424.0,270.2 C422.0,266.2 419.5,261.9 418.8,258.1 C418.1,254.4 418.5,249.9 419.7,247.7Z" fill="none" stroke="#e4cbd5" stroke-width="2.7"/><path d="M419.7,247.7 C420.9,245.5 423.1,245.1 425.8,245.1 C428.6,245.1 432.8,246.3 436.2,247.7 C439.6,249.1 443.1,251.0 446.5,253.7 C449.9,256.4 453.7,260.8 456.9,264.1 C460.1,267.4 463.3,270.7 465.6,273.7 C467.9,276.7 470.1,279.4 470.8,282.3 C471.5,285.2 471.1,288.4 469.9,291.0 C468.7,293.6 466.5,296.2 463.8,297.9 C461.1,299.6 456.7,301.0 453.5,301.3 C450.3,301.6 447.4,301.0 444.8,299.6 C442.2,298.2 440.2,295.6 437.9,292.7 C435.6,289.8 433.3,286.1 431.0,282.3 C428.7,278.6 426.0,274.2 424.0,270.2 C422.0,266.2 419.5,261.9 418.8,258.1 C418.1,254.4 418.5,249.9 419.7,247.7Z" fill="none" stroke="#ad7189" stroke-width="2.7" stroke-dasharray="0.8 0.9"/><circle cx="441.3" cy="230.0" r="2.30" fill="#1c1e33"/><circle cx="421.4" cy="240.4" r="2.30" fill="#1c1e33"/><circle cx="428.4" cy="241.6" r="2.30" fill="#1c1e33"/><circle cx="418.0" cy="245.6" r="2.30" fill="#1c1e33"/><circle cx="431.0" cy="246.0" r="2.30" fill="#1c1e33"/><circle cx="438.7" cy="247.7" r="2.30" fill="#1c1e33"/><circle cx="422.3" cy="254.6" r="2.30" fill="#1c1e33"/><circle cx="435.3" cy="257.7" r="2.30" fill="#1c1e33"/><circle cx="441.3" cy="259.5" r="2.30" fill="#1c1e33"/><circle cx="431.8" cy="261.2" r="2.30" fill="#1c1e33"/><circle cx="411.1" cy="265.3" r="2.30" fill="#1c1e33"/><circle cx="417.1" cy="267.6" r="2.30" fill="#1c1e33"/><circle cx="433.6" cy="266.4" r="2.30" fill="#1c1e33"/><circle cx="438.7" cy="268.5" r="2.30" fill="#1c1e33"/><circle cx="442.2" cy="267.6" r="2.30" fill="#1c1e33"/><circle cx="427.5" cy="271.1" r="2.30" fill="#1c1e33"/><circle cx="432.7" cy="271.9" r="2.30" fill="#1c1e33"/><circle cx="437.0" cy="271.1" r="2.30" fill="#1c1e33"/><circle cx="428.4" cy="275.4" r="2.30" fill="#1c1e33"/><circle cx="437.9" cy="275.0" r="2.30" fill="#1c1e33"/><circle cx="442.2" cy="276.2" r="2.30" fill="#1c1e33"/><circle cx="448.3" cy="272.8" r="2.30" fill="#1c1e33"/><circle cx="450.9" cy="271.6" r="2.30" fill="#1c1e33"/><circle cx="447.4" cy="276.8" r="2.30" fill="#1c1e33"/><circle cx="450.0" cy="278.5" r="2.30" fill="#1c1e33"/><circle cx="454.3" cy="278.0" r="2.30" fill="#1c1e33"/><circle cx="468.2" cy="278.5" r="2.30" fill="#1c1e33"/><circle cx="437.0" cy="280.6" r="2.30" fill="#1c1e33"/><circle cx="449.1" cy="283.7" r="2.30" fill="#1c1e33"/><circle cx="454.3" cy="284.0" r="2.30" fill="#1c1e33"/><circle cx="455.2" cy="285.8" r="2.30" fill="#1c1e33"/><circle cx="447.4" cy="287.5" r="2.30" fill="#1c1e33"/><circle cx="455.2" cy="289.2" r="2.30" fill="#1c1e33"/><circle cx="450.9" cy="297.0" r="2.30" fill="#1c1e33"/><circle cx="455.2" cy="296.2" r="2.30" fill="#1c1e33"/><circle cx="454.3" cy="300.5" r="2.30" fill="#1c1e33"/><circle cx="465.6" cy="297.5" r="2.30" fill="#1c1e33"/><circle cx="468.2" cy="301.3" r="2.30" fill="#1c1e33"/><circle cx="465.6" cy="304.8" r="2.30" fill="#1c1e33"/><circle cx="471.6" cy="305.7" r="2.30" fill="#1c1e33"/><circle cx="456.9" cy="304.8" r="2.30" fill="#1c1e33"/><circle cx="454.3" cy="309.1" r="2.30" fill="#1c1e33"/><circle cx="459.5" cy="310.0" r="2.30" fill="#1c1e33"/><circle cx="469.9" cy="310.3" r="2.30" fill="#1c1e33"/><circle cx="474.2" cy="314.3" r="2.30" fill="#1c1e33"/><text x="443.8" y="339.1" font-family="Liberation Sans, sans-serif" font-size="8.0" font-weight="bold" fill="#404a80">MRD+ cases</text><rect x="385.4" y="365" width="81.3" height="34.4" fill="#c9c9c9"/><text x="426" y="379.6" font-family="Liberation Sans, sans-serif" font-size="10.2" font-weight="bold" fill="#111" text-anchor="middle">96% accuracy</text><text x="426" y="391.7" font-family="Liberation Sans, sans-serif" font-size="10.2" font-weight="bold" fill="#111" text-anchor="middle">(48/50 patients)</text><text x="0" y="0" transform="translate(28.6,427) scale(0.92,1)" font-family="Liberation Sans, sans-serif" font-size="13" font-weight="bold" fill="#111">D</text><line x1="63.5" y1="430.2" x2="63.5" y2="615.8" stroke="#111" stroke-width="1.5"/><line x1="62.8" y1="615.1" x2="246.8" y2="615.1" stroke="#111" stroke-width="1.5"/><line x1="60.3" y1="605.6" x2="63.5" y2="605.6" stroke="#111" stroke-width="1.2"/><text x="0" y="0" transform="translate(57.9,609.0)" font-family="Liberation Sans, sans-serif" font-size="8.4" fill="#222" stroke="#222" stroke-width="0.15" text-anchor="end">0</text><line x1="60.3" y1="572.3" x2="63.5" y2="572.3" stroke="#111" stroke-width="1.2"/><text x="0" y="0" transform="translate(57.9,575.7)" font-family="Liberation Sans, sans-serif" font-size="8.4" fill="#222" stroke="#222" stroke-width="0.15" text-anchor="end">20</text><line x1="60.3" y1="539.0" x2="63.5" y2="539.0" stroke="#111" stroke-width="1.2"/><text x="0" y="0" transform="translate(57.9,542.4)" font-family="Liberation Sans, sans-serif" font-size="8.4" fill="#222" stroke="#222" stroke-width="0.15" text-anchor="end">40</text><line x1="60.3" y1="505.6" x2="63.5" y2="505.6" stroke="#111" stroke-width="1.2"/><text x="0" y="0" transform="translate(57.9,509.0)" font-family="Liberation Sans, sans-serif" font-size="8.4" fill="#222" stroke="#222" stroke-width="0.15" text-anchor="end">60</text><line x1="60.3" y1="472.3" x2="63.5" y2="472.3" stroke="#111" stroke-width="1.2"/><text x="0" y="0" transform="translate(57.9,475.7)" font-family="Liberation Sans, sans-serif" font-size="8.4" fill="#222" stroke="#222" stroke-width="0.15" text-anchor="end">80</text><line x1="60.3" y1="439.0" x2="63.5" y2="439.0" stroke="#111" stroke-width="1.2"/><text x="0" y="0" transform="translate(57.9,442.4)" font-family="Liberation Sans, sans-serif" font-size="8.4" fill="#222" stroke="#222" stroke-width="0.15" text-anchor="end">100</text><line x1="72.8" y1="615" x2="72.8" y2="618.3" stroke="#111" stroke-width="1.2"/><text x="0" y="0" transform="translate(72.8,628.6)" font-family="Liberation Sans, sans-serif" font-size="8.4" fill="#222" stroke="#222" stroke-width="0.15" text-anchor="middle">0</text><line x1="105.9" y1="615" x2="105.9" y2="618.3" stroke="#111" stroke-width="1.2"/><text x="0" y="0" transform="translate(105.9,628.6)" font-family="Liberation Sans, sans-serif" font-size="8.4" fill="#222" stroke="#222" stroke-width="0.15" text-anchor="middle">10</text><line x1="139.0" y1="615" x2="139.0" y2="618.3" stroke="#111" stroke-width="1.2"/><text x="0" y="0" transform="translate(139.0,628.6)" font-family="Liberation Sans, sans-serif" font-size="8.4" fill="#222" stroke="#222" stroke-width="0.15" text-anchor="middle">20</text><line x1="172.1" y1="615" x2="172.1" y2="618.3" stroke="#111" stroke-width="1.2"/><text x="0" y="0" transform="translate(172.1,628.6)" font-family="Liberation Sans, sans-serif" font-size="8.4" fill="#222" stroke="#222" stroke-width="0.15" text-anchor="middle">30</text><line x1="205.2" y1="615" x2="205.2" y2="618.3" stroke="#111" stroke-width="1.2"/><text x="0" y="0" transform="translate(205.2,628.6)" font-family="Liberation Sans, sans-serif" font-size="8.4" fill="#222" stroke="#222" stroke-width="0.15" text-anchor="middle">40</text><line x1="238.3" y1="615" x2="238.3" y2="618.3" stroke="#111" stroke-width="1.2"/><text x="0" y="0" transform="translate(238.3,628.6)" font-family="Liberation Sans, sans-serif" font-size="8.4" fill="#222" stroke="#222" stroke-width="0.15" text-anchor="middle">50</text><text x="0" y="0" transform="translate(37.3,521.8) rotate(-90)" font-family="Liberation Sans, sans-serif" font-size="10.4" fill="#222" stroke="#222" stroke-width="0.3" text-anchor="middle" textLength="97.4" lengthAdjust="spacingAndGlyphs">Time to progression (%)</text><text x="79.2" y="642.6" font-family="Liberation Sans, sans-serif" font-size="10.4" fill="#222" stroke="#222" stroke-width="0.3" textLength="152.8" lengthAdjust="spacingAndGlyphs">Time from MRD assessment (months)</text><text x="68.5" y="612" font-family="Liberation Sans, sans-serif" font-size="7.6" fill="#222" stroke="#222" stroke-width="0.15" textLength="28" lengthAdjust="spacingAndGlyphs"><tspan font-style="italic">P</tspan> &lt; .001</text><path d="M71.8,439.0 H71.8 V447.4 H81.9 V455.0 H92.7 V463.5 H95.0 V472.3 H98.0 V481.2 H102.0 V489.0 H111.5 V506.0 H113.0 V514.4 H122.5 V538.0 H138.8 V551.0 H152.3 V569.2 H166.7" fill="none" stroke="#e2b482" stroke-width="1.50" stroke-linejoin="miter"/><path d="M108.5,486.9 L109.5,489.0 L108.5,491.1 L107.5,489.0 Z" fill="#e2b482" stroke="#e2b482" stroke-width="0.8"/><path d="M159.0,567.1 L160.0,569.2 L159.0,571.3 L158.0,569.2 Z" fill="#e2b482" stroke="#e2b482" stroke-width="0.8"/><path d="M166.5,567.1 L167.5,569.2 L166.5,571.3 L165.5,569.2 Z" fill="#e2b482" stroke="#e2b482" stroke-width="0.8"/><path d="M72.0,447.8 H76.5 V452.0 H78.8 V462.8 H81.9 V471.2 H85.0 V482.0 H88.8 V489.7 H91.5 V494.5 H102.0 V497.5 H103.5 V503.0 H105.0 V509.0 H111.5 V512.0 H113.0 V519.0 H120.6 V527.0 H124.4 V532.7 H134.0 V537.5 H138.8 V541.3 H140.8 V548.0 H154.2 V552.9 H161.0 V559.6 H189.8" fill="none" stroke="#7e1535" stroke-width="1.50" stroke-linejoin="miter"/><path d="M93.5,492.4 L94.5,494.5 L93.5,496.6 L92.5,494.5 Z" fill="#7e1535" stroke="#7e1535" stroke-width="0.8"/><path d="M97.0,492.4 L98.0,494.5 L97.0,496.6 L96.0,494.5 Z" fill="#7e1535" stroke="#7e1535" stroke-width="0.8"/><path d="M107.5,506.9 L108.5,509.0 L107.5,511.1 L106.5,509.0 Z" fill="#7e1535" stroke="#7e1535" stroke-width="0.8"/><path d="M115.8,516.9 L116.8,519.0 L115.8,521.1 L114.8,519.0 Z" fill="#7e1535" stroke="#7e1535" stroke-width="0.8"/><path d="M118.7,516.9 L119.7,519.0 L118.7,521.1 L117.7,519.0 Z" fill="#7e1535" stroke="#7e1535" stroke-width="0.8"/><path d="M131.0,530.6 L132.0,532.7 L131.0,534.8 L130.0,532.7 Z" fill="#7e1535" stroke="#7e1535" stroke-width="0.8"/><path d="M134.0,535.4 L135.0,537.5 L134.0,539.6 L133.0,537.5 Z" fill="#7e1535" stroke="#7e1535" stroke-width="0.8"/><path d="M143.7,545.9 L144.7,548.0 L143.7,550.1 L142.7,548.0 Z" fill="#7e1535" stroke="#7e1535" stroke-width="0.8"/><path d="M147.5,545.9 L148.5,548.0 L147.5,550.1 L146.5,548.0 Z" fill="#7e1535" stroke="#7e1535" stroke-width="0.8"/><path d="M150.4,545.9 L151.4,548.0 L150.4,550.1 L149.4,548.0 Z" fill="#7e1535" stroke="#7e1535" stroke-width="0.8"/><path d="M154.2,550.8 L155.2,552.9 L154.2,555.0 L153.2,552.9 Z" fill="#7e1535" stroke="#7e1535" stroke-width="0.8"/><path d="M156.0,550.8 L157.0,552.9 L156.0,555.0 L155.0,552.9 Z" fill="#7e1535" stroke="#7e1535" stroke-width="0.8"/><path d="M163.8,557.5 L164.8,559.6 L163.8,561.7 L162.8,559.6 Z" fill="#7e1535" stroke="#7e1535" stroke-width="0.8"/><path d="M166.7,557.5 L167.7,559.6 L166.7,561.7 L165.7,559.6 Z" fill="#7e1535" stroke="#7e1535" stroke-width="0.8"/><path d="M169.6,557.5 L170.6,559.6 L169.6,561.7 L168.6,559.6 Z" fill="#7e1535" stroke="#7e1535" stroke-width="0.8"/><path d="M178.0,557.5 L179.0,559.6 L178.0,561.7 L177.0,559.6 Z" fill="#7e1535" stroke="#7e1535" stroke-width="0.8"/><path d="M186.9,557.5 L187.9,559.6 L186.9,561.7 L185.9,559.6 Z" fill="#7e1535" stroke="#7e1535" stroke-width="0.8"/><path d="M188.8,557.5 L189.8,559.6 L188.8,561.7 L187.8,559.6 Z" fill="#7e1535" stroke="#7e1535" stroke-width="0.8"/><path d="M71.8,439.0 H82.0 V442.0 H85.1 V447.8 H101.9 V451.2 H109.6 V454.3 H112.0 V458.3 H132.0 V462.0 H145.3 V474.4 H148.9 V486.0 H186.0 V510.0 H213.5" fill="none" stroke="#6a9fd0" stroke-width="1.50" stroke-linejoin="miter"/><path d="M103.5,449.1 L104.5,451.2 L103.5,453.3 L102.5,451.2 Z" fill="#6a9fd0" stroke="#6a9fd0" stroke-width="0.8"/><path d="M106.0,449.1 L107.0,451.2 L106.0,453.3 L105.0,451.2 Z" fill="#6a9fd0" stroke="#6a9fd0" stroke-width="0.8"/><path d="M108.0,449.1 L109.0,451.2 L108.0,453.3 L107.0,451.2 Z" fill="#6a9fd0" stroke="#6a9fd0" stroke-width="0.8"/><path d="M115.0,456.2 L116.0,458.3 L115.0,460.4 L114.0,458.3 Z" fill="#6a9fd0" stroke="#6a9fd0" stroke-width="0.8"/><path d="M118.0,456.2 L119.0,458.3 L118.0,460.4 L117.0,458.3 Z" fill="#6a9fd0" stroke="#6a9fd0" stroke-width="0.8"/><path d="M121.0,456.2 L122.0,458.3 L121.0,460.4 L120.0,458.3 Z" fill="#6a9fd0" stroke="#6a9fd0" stroke-width="0.8"/><path d="M124.0,456.2 L125.0,458.3 L124.0,460.4 L123.0,458.3 Z" fill="#6a9fd0" stroke="#6a9fd0" stroke-width="0.8"/><path d="M127.0,456.2 L128.0,458.3 L127.0,460.4 L126.0,458.3 Z" fill="#6a9fd0" stroke="#6a9fd0" stroke-width="0.8"/><path d="M130.0,456.2 L131.0,458.3 L130.0,460.4 L129.0,458.3 Z" fill="#6a9fd0" stroke="#6a9fd0" stroke-width="0.8"/><path d="M134.5,459.9 L135.5,462.0 L134.5,464.1 L133.5,462.0 Z" fill="#6a9fd0" stroke="#6a9fd0" stroke-width="0.8"/><path d="M137.5,459.9 L138.5,462.0 L137.5,464.1 L136.5,462.0 Z" fill="#6a9fd0" stroke="#6a9fd0" stroke-width="0.8"/><path d="M140.5,459.9 L141.5,462.0 L140.5,464.1 L139.5,462.0 Z" fill="#6a9fd0" stroke="#6a9fd0" stroke-width="0.8"/><path d="M143.0,459.9 L144.0,462.0 L143.0,464.1 L142.0,462.0 Z" fill="#6a9fd0" stroke="#6a9fd0" stroke-width="0.8"/><path d="M149.5,483.9 L150.5,486.0 L149.5,488.1 L148.5,486.0 Z" fill="#6a9fd0" stroke="#6a9fd0" stroke-width="0.8"/><path d="M152.7,483.9 L153.7,486.0 L152.7,488.1 L151.7,486.0 Z" fill="#6a9fd0" stroke="#6a9fd0" stroke-width="0.8"/><path d="M155.9,483.9 L156.9,486.0 L155.9,488.1 L154.9,486.0 Z" fill="#6a9fd0" stroke="#6a9fd0" stroke-width="0.8"/><path d="M159.0,483.9 L160.0,486.0 L159.0,488.1 L158.0,486.0 Z" fill="#6a9fd0" stroke="#6a9fd0" stroke-width="0.8"/><path d="M165.4,483.9 L166.4,486.0 L165.4,488.1 L164.4,486.0 Z" fill="#6a9fd0" stroke="#6a9fd0" stroke-width="0.8"/><path d="M168.6,483.9 L169.6,486.0 L168.6,488.1 L167.6,486.0 Z" fill="#6a9fd0" stroke="#6a9fd0" stroke-width="0.8"/><path d="M171.7,483.9 L172.7,486.0 L171.7,488.1 L170.7,486.0 Z" fill="#6a9fd0" stroke="#6a9fd0" stroke-width="0.8"/><path d="M174.9,483.9 L175.9,486.0 L174.9,488.1 L173.9,486.0 Z" fill="#6a9fd0" stroke="#6a9fd0" stroke-width="0.8"/><path d="M188.7,507.9 L189.7,510.0 L188.7,512.1 L187.7,510.0 Z" fill="#6a9fd0" stroke="#6a9fd0" stroke-width="0.8"/><path d="M205.6,507.9 L206.6,510.0 L205.6,512.1 L204.6,510.0 Z" fill="#6a9fd0" stroke="#6a9fd0" stroke-width="0.8"/><path d="M213.0,507.9 L214.0,510.0 L213.0,512.1 L212.0,510.0 Z" fill="#6a9fd0" stroke="#6a9fd0" stroke-width="0.8"/><path d="M190.8,555.1 H196.8 V577.3 H190.8 M196.8,566.1 H202.2" fill="none" stroke="#111" stroke-width="1.5"/><text x="210.7" y="569" font-family="Liberation Sans, sans-serif" font-size="7.6" fill="#222" stroke="#222" stroke-width="0.15" textLength="24.5" lengthAdjust="spacingAndGlyphs"><tspan font-style="italic">P</tspan> = .93</text><text x="63.8" y="658.8" font-family="Liberation Sans, sans-serif" font-size="7.7" fill="#8db6d6" textLength="142" lengthAdjust="spacingAndGlyphs">MRD-ve (&lt;10<tspan font-size="5" dy="-3">-5</tspan><tspan dy="3">; n = 54), median TTP: NR</tspan></text><text x="63.8" y="674.2" font-family="Liberation Sans, sans-serif" font-size="7.7" fill="#8a1c3e" stroke="#8a1c3e" stroke-width="0.08" textLength="178" lengthAdjust="spacingAndGlyphs">MRD+ve (≥10<tspan font-size="5" dy="-3">-5</tspan><tspan dy="3"> to &lt;10</tspan><tspan font-size="5" dy="-3">-4</tspan><tspan dy="3">; n = 20), median TTP: 15m</tspan></text><text x="63.8" y="689" font-family="Liberation Sans, sans-serif" font-size="7.7" fill="#e6c9a4" textLength="147.8" lengthAdjust="spacingAndGlyphs">MRD+ve (≥10<tspan font-size="5" dy="-3">-4</tspan><tspan dy="3">; n = 88), median TTP: 15m</tspan></text><text x="0" y="0" transform="translate(264,427) scale(0.92,1)" font-family="Liberation Sans, sans-serif" font-size="13" font-weight="bold" fill="#111">E</text><line x1="298.9" y1="430.2" x2="298.9" y2="615.8" stroke="#111" stroke-width="1.5"/><line x1="298.2" y1="615.1" x2="483.0" y2="615.1" stroke="#111" stroke-width="1.5"/><line x1="295.7" y1="605.6" x2="298.9" y2="605.6" stroke="#111" stroke-width="1.2"/><text x="0" y="0" transform="translate(293.3,609.0)" font-family="Liberation Sans, sans-serif" font-size="8.4" fill="#222" stroke="#222" stroke-width="0.15" text-anchor="end">0</text><line x1="295.7" y1="572.3" x2="298.9" y2="572.3" stroke="#111" stroke-width="1.2"/><text x="0" y="0" transform="translate(293.3,575.7)" font-family="Liberation Sans, sans-serif" font-size="8.4" fill="#222" stroke="#222" stroke-width="0.15" text-anchor="end">20</text><line x1="295.7" y1="539.0" x2="298.9" y2="539.0" stroke="#111" stroke-width="1.2"/><text x="0" y="0" transform="translate(293.3,542.4)" font-family="Liberation Sans, sans-serif" font-size="8.4" fill="#222" stroke="#222" stroke-width="0.15" text-anchor="end">40</text><line x1="295.7" y1="505.6" x2="298.9" y2="505.6" stroke="#111" stroke-width="1.2"/><text x="0" y="0" transform="translate(293.3,509.0)" font-family="Liberation Sans, sans-serif" font-size="8.4" fill="#222" stroke="#222" stroke-width="0.15" text-anchor="end">60</text><line x1="295.7" y1="472.3" x2="298.9" y2="472.3" stroke="#111" stroke-width="1.2"/><text x="0" y="0" transform="translate(293.3,475.7)" font-family="Liberation Sans, sans-serif" font-size="8.4" fill="#222" stroke="#222" stroke-width="0.15" text-anchor="end">80</text><line x1="295.7" y1="439.0" x2="298.9" y2="439.0" stroke="#111" stroke-width="1.2"/><text x="0" y="0" transform="translate(293.3,442.4)" font-family="Liberation Sans, sans-serif" font-size="8.4" fill="#222" stroke="#222" stroke-width="0.15" text-anchor="end">100</text><line x1="307.8" y1="615" x2="307.8" y2="618.3" stroke="#111" stroke-width="1.2"/><text x="0" y="0" transform="translate(307.8,628.6)" font-family="Liberation Sans, sans-serif" font-size="8.4" fill="#222" stroke="#222" stroke-width="0.15" text-anchor="middle">0</text><line x1="341.2" y1="615" x2="341.2" y2="618.3" stroke="#111" stroke-width="1.2"/><text x="0" y="0" transform="translate(341.2,628.6)" font-family="Liberation Sans, sans-serif" font-size="8.4" fill="#222" stroke="#222" stroke-width="0.15" text-anchor="middle">10</text><line x1="374.5" y1="615" x2="374.5" y2="618.3" stroke="#111" stroke-width="1.2"/><text x="0" y="0" transform="translate(374.5,628.6)" font-family="Liberation Sans, sans-serif" font-size="8.4" fill="#222" stroke="#222" stroke-width="0.15" text-anchor="middle">20</text><line x1="407.9" y1="615" x2="407.9" y2="618.3" stroke="#111" stroke-width="1.2"/><text x="0" y="0" transform="translate(407.9,628.6)" font-family="Liberation Sans, sans-serif" font-size="8.4" fill="#222" stroke="#222" stroke-width="0.15" text-anchor="middle">30</text><line x1="441.2" y1="615" x2="441.2" y2="618.3" stroke="#111" stroke-width="1.2"/><text x="0" y="0" transform="translate(441.2,628.6)" font-family="Liberation Sans, sans-serif" font-size="8.4" fill="#222" stroke="#222" stroke-width="0.15" text-anchor="middle">40</text><line x1="474.6" y1="615" x2="474.6" y2="618.3" stroke="#111" stroke-width="1.2"/><text x="0" y="0" transform="translate(474.6,628.6)" font-family="Liberation Sans, sans-serif" font-size="8.4" fill="#222" stroke="#222" stroke-width="0.15" text-anchor="middle">50</text><text x="0" y="0" transform="translate(272.7,522.3) rotate(-90)" font-family="Liberation Sans, sans-serif" font-size="10.4" fill="#222" stroke="#222" stroke-width="0.3" text-anchor="middle" textLength="78.3" lengthAdjust="spacingAndGlyphs">Overall survival (%)</text><text x="315" y="642.5" font-family="Liberation Sans, sans-serif" font-size="10.4" fill="#222" stroke="#222" stroke-width="0.3" textLength="151.3" lengthAdjust="spacingAndGlyphs">Time from MRD assessment (months)</text><text x="303.8" y="612" font-family="Liberation Sans, sans-serif" font-size="7.6" fill="#222" stroke="#222" stroke-width="0.15" textLength="24.5" lengthAdjust="spacingAndGlyphs"><tspan font-style="italic">P</tspan> = .02</text><path d="M307.7,438.7 H310.6 V447.3 H330.8 V456.0 H341.3 V464.6 H371.2 V476.2 H384.4 V491.2 H400.8 V514.0 H442.9" fill="none" stroke="#e2b482" stroke-width="1.50" stroke-linejoin="miter"/><path d="M345.0,462.5 L346.0,464.6 L345.0,466.7 L344.0,464.6 Z" fill="#e2b482" stroke="#e2b482" stroke-width="0.8"/><path d="M350.0,462.5 L351.0,464.6 L350.0,466.7 L349.0,464.6 Z" fill="#e2b482" stroke="#e2b482" stroke-width="0.8"/><path d="M355.0,462.5 L356.0,464.6 L355.0,466.7 L354.0,464.6 Z" fill="#e2b482" stroke="#e2b482" stroke-width="0.8"/><path d="M360.0,462.5 L361.0,464.6 L360.0,466.7 L359.0,464.6 Z" fill="#e2b482" stroke="#e2b482" stroke-width="0.8"/><path d="M378.0,474.1 L379.0,476.2 L378.0,478.3 L377.0,476.2 Z" fill="#e2b482" stroke="#e2b482" stroke-width="0.8"/><path d="M385.5,489.1 L386.5,491.2 L385.5,493.3 L384.5,491.2 Z" fill="#e2b482" stroke="#e2b482" stroke-width="0.8"/><path d="M391.5,489.1 L392.5,491.2 L391.5,493.3 L390.5,491.2 Z" fill="#e2b482" stroke="#e2b482" stroke-width="0.8"/><path d="M411.5,511.9 L412.5,514.0 L411.5,516.1 L410.5,514.0 Z" fill="#e2b482" stroke="#e2b482" stroke-width="0.8"/><path d="M438.5,511.9 L439.5,514.0 L438.5,516.1 L437.5,514.0 Z" fill="#e2b482" stroke="#e2b482" stroke-width="0.8"/><path d="M441.5,511.9 L442.5,514.0 L441.5,516.1 L440.5,514.0 Z" fill="#e2b482" stroke="#e2b482" stroke-width="0.8"/><path d="M310.6,439.6 H318.3 V443.8 H328.8 V448.3 H343.3 V452.7 H346.2 V458.8 H352.0 V460.8 H355.8 V464.6 H359.6 V470.4 H374.0 V474.2 H377.0 V480.0 H380.8 V483.8 H384.4 V495.4 H394.0 V500.2 H425.8" fill="none" stroke="#7e1535" stroke-width="1.50" stroke-linejoin="miter"/><path d="M337.0,446.2 L338.0,448.3 L337.0,450.4 L336.0,448.3 Z" fill="#7e1535" stroke="#7e1535" stroke-width="0.8"/><path d="M340.0,446.2 L341.0,448.3 L340.0,450.4 L339.0,448.3 Z" fill="#7e1535" stroke="#7e1535" stroke-width="0.8"/><path d="M345.0,450.6 L346.0,452.7 L345.0,454.8 L344.0,452.7 Z" fill="#7e1535" stroke="#7e1535" stroke-width="0.8"/><path d="M349.0,456.7 L350.0,458.8 L349.0,460.9 L348.0,458.8 Z" fill="#7e1535" stroke="#7e1535" stroke-width="0.8"/><path d="M354.0,458.7 L355.0,460.8 L354.0,462.9 L353.0,460.8 Z" fill="#7e1535" stroke="#7e1535" stroke-width="0.8"/><path d="M362.0,468.3 L363.0,470.4 L362.0,472.5 L361.0,470.4 Z" fill="#7e1535" stroke="#7e1535" stroke-width="0.8"/><path d="M365.0,468.3 L366.0,470.4 L365.0,472.5 L364.0,470.4 Z" fill="#7e1535" stroke="#7e1535" stroke-width="0.8"/><path d="M368.0,468.3 L369.0,470.4 L368.0,472.5 L367.0,470.4 Z" fill="#7e1535" stroke="#7e1535" stroke-width="0.8"/><path d="M371.0,468.3 L372.0,470.4 L371.0,472.5 L370.0,470.4 Z" fill="#7e1535" stroke="#7e1535" stroke-width="0.8"/><path d="M376.0,472.1 L377.0,474.2 L376.0,476.3 L375.0,474.2 Z" fill="#7e1535" stroke="#7e1535" stroke-width="0.8"/><path d="M379.0,477.9 L380.0,480.0 L379.0,482.1 L378.0,480.0 Z" fill="#7e1535" stroke="#7e1535" stroke-width="0.8"/><path d="M388.0,493.3 L389.0,495.4 L388.0,497.5 L387.0,495.4 Z" fill="#7e1535" stroke="#7e1535" stroke-width="0.8"/><path d="M391.0,493.3 L392.0,495.4 L391.0,497.5 L390.0,495.4 Z" fill="#7e1535" stroke="#7e1535" stroke-width="0.8"/><path d="M396.0,498.1 L397.0,500.2 L396.0,502.3 L395.0,500.2 Z" fill="#7e1535" stroke="#7e1535" stroke-width="0.8"/><path d="M399.0,498.1 L400.0,500.2 L399.0,502.3 L398.0,500.2 Z" fill="#7e1535" stroke="#7e1535" stroke-width="0.8"/><path d="M403.0,498.1 L404.0,500.2 L403.0,502.3 L402.0,500.2 Z" fill="#7e1535" stroke="#7e1535" stroke-width="0.8"/><path d="M407.0,498.1 L408.0,500.2 L407.0,502.3 L406.0,500.2 Z" fill="#7e1535" stroke="#7e1535" stroke-width="0.8"/><path d="M411.0,498.1 L412.0,500.2 L411.0,502.3 L410.0,500.2 Z" fill="#7e1535" stroke="#7e1535" stroke-width="0.8"/><path d="M418.0,498.1 L419.0,500.2 L418.0,502.3 L417.0,500.2 Z" fill="#7e1535" stroke="#7e1535" stroke-width="0.8"/><path d="M425.0,498.1 L426.0,500.2 L425.0,502.3 L424.0,500.2 Z" fill="#7e1535" stroke="#7e1535" stroke-width="0.8"/><path d="M307.7,438.7 H337.5 V441.9 H356.7 V445.4 H394.0 V453.5 H404.6 V465.2 H417.7 V488.0 H448.9" fill="none" stroke="#6a9fd0" stroke-width="1.50" stroke-linejoin="miter"/><path d="M341.0,439.8 L342.0,441.9 L341.0,444.0 L340.0,441.9 Z" fill="#6a9fd0" stroke="#6a9fd0" stroke-width="0.8"/><path d="M345.0,439.8 L346.0,441.9 L345.0,444.0 L344.0,441.9 Z" fill="#6a9fd0" stroke="#6a9fd0" stroke-width="0.8"/><path d="M348.0,439.8 L349.0,441.9 L348.0,444.0 L347.0,441.9 Z" fill="#6a9fd0" stroke="#6a9fd0" stroke-width="0.8"/><path d="M351.0,439.8 L352.0,441.9 L351.0,444.0 L350.0,441.9 Z" fill="#6a9fd0" stroke="#6a9fd0" stroke-width="0.8"/><path d="M354.0,439.8 L355.0,441.9 L354.0,444.0 L353.0,441.9 Z" fill="#6a9fd0" stroke="#6a9fd0" stroke-width="0.8"/><path d="M360.0,443.3 L361.0,445.4 L360.0,447.5 L359.0,445.4 Z" fill="#6a9fd0" stroke="#6a9fd0" stroke-width="0.8"/><path d="M363.5,443.3 L364.5,445.4 L363.5,447.5 L362.5,445.4 Z" fill="#6a9fd0" stroke="#6a9fd0" stroke-width="0.8"/><path d="M367.0,443.3 L368.0,445.4 L367.0,447.5 L366.0,445.4 Z" fill="#6a9fd0" stroke="#6a9fd0" stroke-width="0.8"/><path d="M370.5,443.3 L371.5,445.4 L370.5,447.5 L369.5,445.4 Z" fill="#6a9fd0" stroke="#6a9fd0" stroke-width="0.8"/><path d="M374.0,443.3 L375.0,445.4 L374.0,447.5 L373.0,445.4 Z" fill="#6a9fd0" stroke="#6a9fd0" stroke-width="0.8"/><path d="M377.5,443.3 L378.5,445.4 L377.5,447.5 L376.5,445.4 Z" fill="#6a9fd0" stroke="#6a9fd0" stroke-width="0.8"/><path d="M381.0,443.3 L382.0,445.4 L381.0,447.5 L380.0,445.4 Z" fill="#6a9fd0" stroke="#6a9fd0" stroke-width="0.8"/><path d="M385.0,443.3 L386.0,445.4 L385.0,447.5 L384.0,445.4 Z" fill="#6a9fd0" stroke="#6a9fd0" stroke-width="0.8"/><path d="M388.5,443.3 L389.5,445.4 L388.5,447.5 L387.5,445.4 Z" fill="#6a9fd0" stroke="#6a9fd0" stroke-width="0.8"/><path d="M391.5,443.3 L392.5,445.4 L391.5,447.5 L390.5,445.4 Z" fill="#6a9fd0" stroke="#6a9fd0" stroke-width="0.8"/><path d="M397.0,451.4 L398.0,453.5 L397.0,455.6 L396.0,453.5 Z" fill="#6a9fd0" stroke="#6a9fd0" stroke-width="0.8"/><path d="M400.0,451.4 L401.0,453.5 L400.0,455.6 L399.0,453.5 Z" fill="#6a9fd0" stroke="#6a9fd0" stroke-width="0.8"/><path d="M403.0,451.4 L404.0,453.5 L403.0,455.6 L402.0,453.5 Z" fill="#6a9fd0" stroke="#6a9fd0" stroke-width="0.8"/><path d="M407.5,463.1 L408.5,465.2 L407.5,467.3 L406.5,465.2 Z" fill="#6a9fd0" stroke="#6a9fd0" stroke-width="0.8"/><path d="M411.0,463.1 L412.0,465.2 L411.0,467.3 L410.0,465.2 Z" fill="#6a9fd0" stroke="#6a9fd0" stroke-width="0.8"/><path d="M414.5,463.1 L415.5,465.2 L414.5,467.3 L413.5,465.2 Z" fill="#6a9fd0" stroke="#6a9fd0" stroke-width="0.8"/><path d="M420.0,485.9 L421.0,488.0 L420.0,490.1 L419.0,488.0 Z" fill="#6a9fd0" stroke="#6a9fd0" stroke-width="0.8"/><path d="M423.5,485.9 L424.5,488.0 L423.5,490.1 L422.5,488.0 Z" fill="#6a9fd0" stroke="#6a9fd0" stroke-width="0.8"/><path d="M427.0,485.9 L428.0,488.0 L427.0,490.1 L426.0,488.0 Z" fill="#6a9fd0" stroke="#6a9fd0" stroke-width="0.8"/><path d="M440.0,485.9 L441.0,488.0 L440.0,490.1 L439.0,488.0 Z" fill="#6a9fd0" stroke="#6a9fd0" stroke-width="0.8"/><path d="M448.5,485.9 L449.5,488.0 L448.5,490.1 L447.5,488.0 Z" fill="#6a9fd0" stroke="#6a9fd0" stroke-width="0.8"/><path d="M445.6,494.4 H451.6 V515.7 H445.6 M451.6,505.2 H456.6" fill="none" stroke="#111" stroke-width="1.5"/><text x="461" y="507.6" font-family="Liberation Sans, sans-serif" font-size="7.6" fill="#222" stroke="#222" stroke-width="0.15" textLength="24.7" lengthAdjust="spacingAndGlyphs"><tspan font-style="italic">P</tspan> = .82</text><text x="298.8" y="658.8" font-family="Liberation Sans, sans-serif" font-size="7.7" fill="#8db6d6" textLength="127.2" lengthAdjust="spacingAndGlyphs">MRD-ve (&lt;10<tspan font-size="5" dy="-3">-5</tspan><tspan dy="3">; n = 54), 3y OS: 70%</tspan></text><text x="298.8" y="673.8" font-family="Liberation Sans, sans-serif" font-size="7.7" fill="#8a1c3e" stroke="#8a1c3e" stroke-width="0.08" textLength="158.2" lengthAdjust="spacingAndGlyphs">MRD+ve (≥10<tspan font-size="5" dy="-3">-5</tspan><tspan dy="3"> to &lt;10</tspan><tspan font-size="5" dy="-3">-4</tspan><tspan dy="3">; n = 20), 3y OS: 63%</tspan></text><text x="298.8" y="688.3" font-family="Liberation Sans, sans-serif" font-size="7.7" fill="#e6c9a4" textLength="128.7" lengthAdjust="spacingAndGlyphs">MRD+ve (≥10<tspan font-size="5" dy="-3">-4</tspan><tspan dy="3">; n = 88), 3y OS: 55%</tspan></text>
</svg>
</body></html>
